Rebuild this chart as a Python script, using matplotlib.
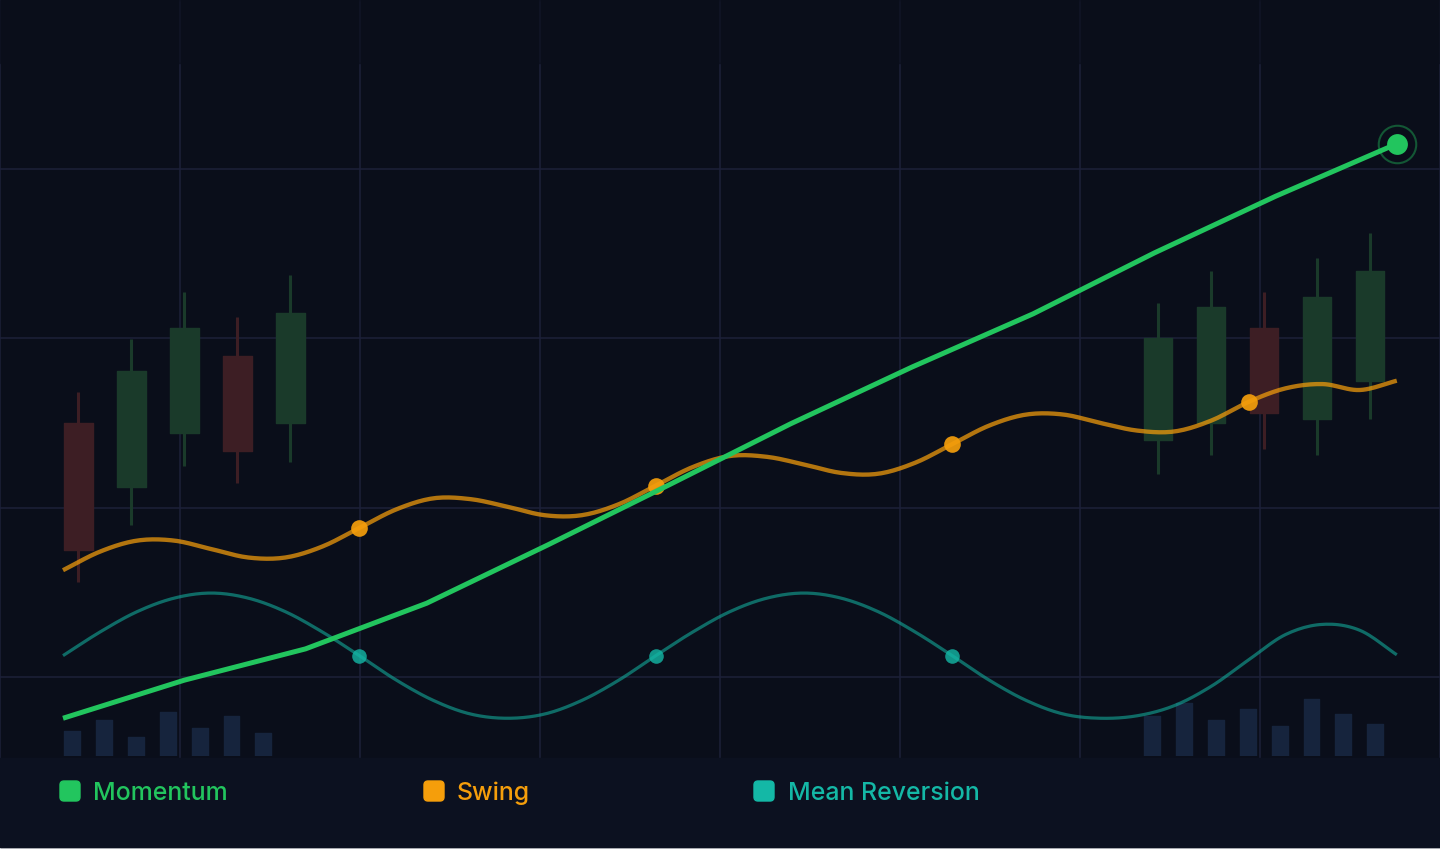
import numpy as np
import matplotlib.pyplot as plt
from matplotlib.patches import Rectangle, FancyBboxPatch
from matplotlib.transforms import IdentityTransform

# colours
BG = '#0a0e1a'
BAND = '#0c1120'
GRID = '#1d2139'
GREEN = '#22c55e'
ORANGE = '#f59e0b'
TEAL = '#14b8a6'
UP = '#1a3a2a'
DOWN = '#3d1e24'
VOL = '#16243d'

# Momentum (12 sessions)
momentum = [15.1, 19.6, 23.3, 28.7, 35.6, 42.7, 49.9, 56.6, 62.9, 70.1, 76.8, 83.0]

# Swing and Mean Reversion (37 samples over the same span)
swing = [32.6, 34.8, 36.1, 36.1, 35.1, 34.1, 34.1, 35.4, 37.6, 39.8, 41.1, 41.0,
         40.1, 39.1, 39.1, 40.4, 42.6, 44.8, 46.1, 46.0, 45.1, 44.1, 44.0, 45.3,
         47.5, 49.7, 51.0, 51.0, 50.0, 49.1, 49.0, 50.3, 52.5, 54.1, 54.6, 53.9, 55.0]
mean_rev = [22.5, 25.3, 27.7, 29.3, 29.9, 29.3, 27.7, 25.3, 22.5, 19.6, 17.2, 15.6,
            15.1, 15.6, 17.2, 19.6, 22.5, 25.3, 27.7, 29.3, 29.9, 29.3, 27.7, 25.3,
            22.5, 19.6, 17.2, 15.6, 15.1, 15.4, 16.6, 18.9, 22.0, 25.0, 26.2, 25.5, 22.6]
swing_marks = [8, 16, 24, 32]
mr_marks = [8, 16, 24]

# candles: left group, right group
left_open = [50.0, 42.4, 48.8, 57.9, 50.0]
left_high = [53.7, 59.9, 65.5, 62.5, 67.5]
left_low = [31.2, 37.9, 44.9, 42.9, 45.4]
left_close = [35.0, 56.2, 61.2, 46.7, 63.0]
right_open = [48.0, 50.0, 61.2, 50.5, 55.0]
right_high = [64.2, 68.0, 65.5, 69.5, 72.5]
right_low = [44.0, 46.2, 46.9, 46.2, 50.5]
right_close = [60.1, 63.7, 51.2, 64.9, 68.0]

# volume bars
left_vol = [25, 36, 19, 44, 28, 40, 23]
right_vol = [40, 53, 36, 47, 30, 57, 42, 32]

labels = ['Momentum', 'Swing', 'Mean Reversion']


def smooth(x, y, n=12):
    # cubic hermite through the points (catmull-rom slopes)
    x = np.asarray(x, float)
    y = np.asarray(y, float)
    m = np.gradient(y, x)
    xs, ys = [], []
    for i in range(len(x) - 1):
        h = x[i + 1] - x[i]
        t = np.linspace(0, 1, n, endpoint=False)
        h00 = 2 * t**3 - 3 * t**2 + 1
        h10 = t**3 - 2 * t**2 + t
        h01 = -2 * t**3 + 3 * t**2
        h11 = t**3 - t**2
        xs.append(x[i] + t * h)
        ys.append(h00 * y[i] + h10 * h * m[i] + h01 * y[i + 1] + h11 * h * m[i + 1])
    xs.append([x[-1]])
    ys.append([y[-1]])
    return np.concatenate(xs), np.concatenate(ys)


W, H = 1440, 868
fig = plt.figure(figsize=(W / 100, H / 100), dpi=100, facecolor='white')
fig.add_artist(Rectangle((0, 21 / H), 1, 847 / H, transform=fig.transFigure,
                         color=BG, zorder=-1))

ax = fig.add_axes([0, 22 / H, 1, 846 / H], zorder=1)
ax.set_facecolor('none')
ax.set_xlim(0, 8)
ax.set_ylim(0, 100)
ax.set_xticks(range(9))
ax.set_yticks([20, 40, 60, 80])
ax.grid(True, color=GRID, linewidth=1.1)
ax.tick_params(length=0, labelbottom=False, labelleft=False)
for s in ax.spines.values():
    s.set_visible(False)

vax = fig.add_axes([0, 112 / H, 1, 120 / H], zorder=0.5)
vax.set_facecolor('none')
vax.set_xlim(0, 8)
vax.set_ylim(0, 120)
vax.axis('off')

mom_x = np.linspace(0.35, 7.76, len(momentum))
curve_x = np.linspace(0.35, 7.76, len(swing))

# volume
lv_x = 0.40 + 0.1772 * np.arange(len(left_vol))
rv_x = 6.40 + 0.1772 * np.arange(len(right_vol))
for vx, vv in [(lv_x, left_vol), (rv_x, right_vol)]:
    vax.bar(vx, vv, width=0.088, color=VOL, edgecolor=VOL, linewidth=1,
            joinstyle='round')

# candles
def candles(x0, o, h, l, c):
    cx = x0 + 0.2944 * np.arange(len(o))
    for xi, oi, hi, li, ci in zip(cx, o, h, l, c):
        col = UP if ci >= oi else DOWN
        ax.vlines(xi, li, hi, color=col, linewidth=2.2, zorder=2)
        ax.bar(xi, abs(ci - oi), bottom=min(oi, ci), width=0.16, color=col,
               edgecolor=col, linewidth=1, joinstyle='round', zorder=2.1)

candles(0.435, left_open, left_high, left_low, left_close)
candles(6.433, right_open, right_high, right_low, right_close)

# lines
tx, ty = smooth(curve_x, mean_rev)
ax.plot(tx, ty, color=TEAL, alpha=0.55, linewidth=2.3, zorder=3,
        solid_capstyle='butt')
ax.plot(curve_x[mr_marks], np.array(mean_rev)[mr_marks], 'o', color=TEAL,
        alpha=0.8, markersize=10.5, markeredgewidth=0, zorder=3.1)

sx, sy = smooth(curve_x, swing)
ax.plot(sx, sy, color=ORANGE, alpha=0.72, linewidth=3.1, zorder=4,
        solid_capstyle='butt')
ax.plot(curve_x[swing_marks], np.array(swing)[swing_marks], 'o', color=ORANGE,
        alpha=0.92, markersize=12, markeredgewidth=0, zorder=4.1)

ax.plot(mom_x, momentum, color=GREEN, linewidth=3.6, zorder=5,
        solid_joinstyle='round', solid_capstyle='butt')
ax.plot(mom_x[-1], momentum[-1], 'o', color=GREEN, markersize=15,
        markeredgewidth=0, zorder=5.1)
ax.plot(mom_x[-1], momentum[-1], 'o', markerfacecolor='none',
        markeredgecolor=GREEN, alpha=0.4, markersize=27, markeredgewidth=1.5,
        zorder=5.1)

# dim header strip and legend band
fig.add_artist(Rectangle((0, 1 - 63 / H), 1, 63 / H, transform=fig.transFigure,
                         color=BG, alpha=0.6, zorder=2))
fig.add_artist(Rectangle((0, 21 / H), 1, 89 / H, transform=fig.transFigure,
                         color=BAND, zorder=3))

leg_sq = [60, 424, 754]
leg_tx = [93, 457, 788]
for lab, col, sq, tx0 in zip(labels, [GREEN, ORANGE, TEAL], leg_sq, leg_tx):
    fig.add_artist(FancyBboxPatch((sq + 2, H - 799), 16, 16,
                                  boxstyle='round,pad=2,rounding_size=4',
                                  transform=IdentityTransform(), color=col,
                                  zorder=4))
    fig.text(tx0 / W, 1 - 800 / H, lab, color=col, fontsize=17.9,
             family=['Inter', 'DejaVu Sans'], fontweight='medium',
             ha='left', va='baseline', zorder=5)

fig.savefig('out.png', dpi=100, facecolor=fig.get_facecolor())
